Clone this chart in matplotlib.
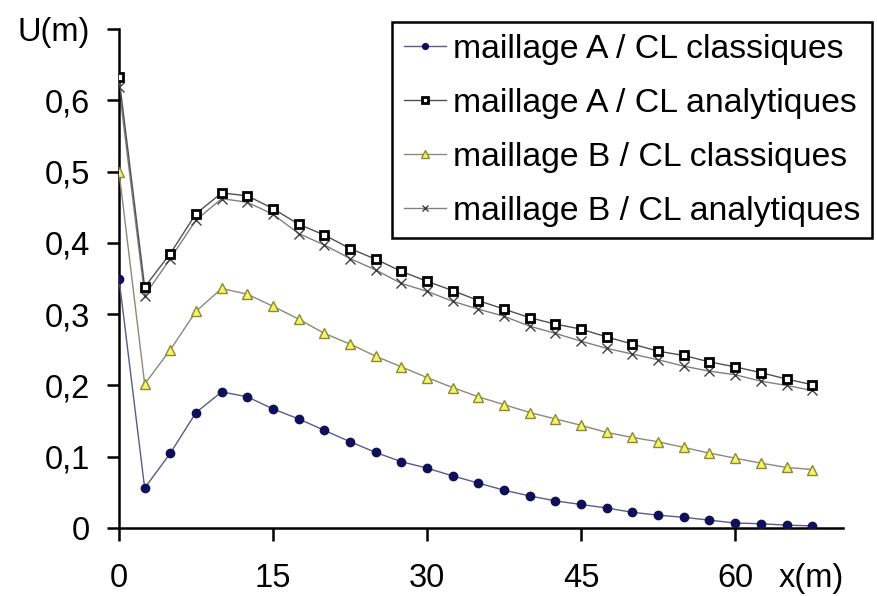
import matplotlib
matplotlib.use("Agg")
import matplotlib.pyplot as plt

# abscisses (m)
x = [i * 2.5 for i in range(28)]

# deplacements U(m)
a_classiques = [0.350, 0.056, 0.105, 0.162, 0.191, 0.184, 0.167, 0.153, 0.137, 0.121,
                0.106, 0.093, 0.084, 0.073, 0.063, 0.053, 0.045, 0.038, 0.033, 0.028,
                0.022, 0.018, 0.015, 0.011, 0.007, 0.006, 0.004, 0.003]
a_analytiques = [0.632, 0.338, 0.385, 0.441, 0.470, 0.466, 0.448, 0.426, 0.411, 0.392,
                 0.377, 0.360, 0.346, 0.333, 0.319, 0.307, 0.295, 0.286, 0.279, 0.268,
                 0.258, 0.248, 0.242, 0.233, 0.226, 0.218, 0.209, 0.201]
b_classiques = [0.500, 0.202, 0.250, 0.304, 0.336, 0.328, 0.311, 0.293, 0.273, 0.258,
                0.241, 0.226, 0.211, 0.197, 0.184, 0.173, 0.162, 0.153, 0.144, 0.134,
                0.127, 0.121, 0.113, 0.105, 0.098, 0.091, 0.085, 0.082]
b_analytiques = [0.618, 0.326, 0.378, 0.432, 0.462, 0.457, 0.440, 0.413, 0.397, 0.378,
                 0.362, 0.343, 0.332, 0.318, 0.307, 0.297, 0.283, 0.273, 0.262, 0.252,
                 0.244, 0.236, 0.227, 0.220, 0.215, 0.206, 0.200, 0.193]

labels = ["maillage A / CL classiques", "maillage A / CL analytiques",
          "maillage B / CL classiques", "maillage B / CL analytiques"]

xticks = [0, 15, 30, 45, 60]
yticks = [0, 0.1, 0.2, 0.3, 0.4, 0.5, 0.6, 0.7]
ytick_labels = ["0", "0,1", "0,2", "0,3", "0,4", "0,5", "0,6", "U(m)"]

plt.rcParams["font.family"] = ["Liberation Sans", "DejaVu Sans"]

fig = plt.figure(figsize=(8.77, 5.96), dpi=100)
ax = fig.add_axes([119 / 877, 1 - 528 / 596, 724 / 877, 499 / 596])

# courbes
l1, = ax.plot(x, a_classiques, color="#5a5a8c", lw=1.0, marker="o", ms=6,
              mfc="#10105a", mec="#10105a", zorder=4)
l4, = ax.plot(x, b_analytiques, color="#808080", lw=1.0, marker="x", ms=6.5,
              mec="#404040", mew=1.0, zorder=2)
l2, = ax.plot(x, a_analytiques, color="#505050", lw=1.0, marker="s", ms=5.5,
              mfc="white", mec="black", mew=2.0, zorder=3)
l3, = ax.plot(x, b_classiques, color="#8a8a78", lw=1.0, marker="^", ms=7.5,
              mfc="#f4f46a", mec="#8a8a30", mew=1.0, zorder=3)

ax.set_xlim(0, 70.5)
ax.set_ylim(0, 0.7)
ax.set_xticks(xticks)
ax.set_xticklabels([str(v) for v in xticks])
ax.set_xticks([67.4], labels=["x(m)"], minor=True)
ax.set_yticks(yticks)
ax.set_yticklabels(ytick_labels)

ax.spines["top"].set_visible(False)
ax.spines["right"].set_visible(False)
ax.spines["left"].set_linewidth(1.8)
ax.spines["bottom"].set_linewidth(1.8)
ax.tick_params(axis="both", which="major", direction="out", length=9, width=1.8,
               labelsize=23.5, colors="black")
ax.tick_params(axis="x", which="major", pad=16)
ax.tick_params(axis="x", which="minor", length=0, labelsize=23.5, pad=25)
ax.tick_params(axis="y", pad=12)

# legende
leg = fig.legend([l1, l2, l3, l4], labels, loc="upper left",
                 bbox_to_anchor=(392 / 877, 1 - 22 / 596), borderaxespad=0,
                 fontsize=24.3, frameon=True, fancybox=False, framealpha=1,
                 edgecolor="black", handlelength=1.25, handletextpad=0.2,
                 labelspacing=0.68, borderpad=0.35, markerscale=0.7)
leg.get_frame().set_linewidth(1.8)

fig.savefig("out.png", dpi=100)
